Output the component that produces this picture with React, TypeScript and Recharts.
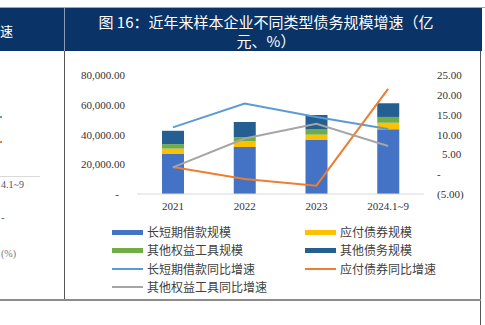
import React from "react";
import { ComposedChart, Bar, Line, XAxis, YAxis } from "recharts";

const categories = ["2021", "2022", "2023", "2024.1~9"];
const loans = [26900, 31600, 36300, 43500];
const bonds = [3600, 3800, 3600, 4400];
const equityTools = [3000, 2900, 3800, 3900];
const otherDebt = [9000, 10100, 9400, 9200];
const loanGrowth = [11.8, 17.8, 14.4, 11.4];
const bondGrowth = [1.8, -1.2, -2.9, 21.5];
const equityGrowth = [1.7, 9.0, 12.7, 7.1];

const leftTicks = [0, 20000, 40000, 60000, 80000];
const rightTicks = [-5, 0, 5, 10, 15, 20, 25];

const NAVY = "#0a3468";
const CJK = '"Noto Sans CJK SC", sans-serif';
const SERIF = '"Liberation Serif", "Times New Roman", serif';

const data = categories.map((name, i) => ({
  name,
  loans: loans[i],
  bonds: bonds[i],
  equityTools: equityTools[i],
  otherDebt: otherDebt[i],
  loanGrowth: loanGrowth[i],
  bondGrowth: bondGrowth[i],
  equityGrowth: equityGrowth[i],
}));

const legendItems = [
  { label: "长短期借款规模", color: "#4472c4", bar: true },
  { label: "应付债券规模", color: "#ffc000", bar: true },
  { label: "其他权益工具规模", color: "#70ad47", bar: true },
  { label: "其他债务规模", color: "#255e91", bar: true },
  { label: "长短期借款同比增速", color: "#5b9bd5", bar: false },
  { label: "应付债券同比增速", color: "#ed7d31", bar: false },
  { label: "其他权益工具同比增速", color: "#a5a5a5", bar: false },
];

const fmt = (v: number) =>
  Math.abs(v).toLocaleString("en-US", { minimumFractionDigits: 2, maximumFractionDigits: 2 });

const LeftTick = ({ x, y, payload }: any) => {
  const v = payload.value as number;
  return (
    <text
      x={v === 0 ? x - 6 : x}
      y={y}
      textAnchor="end"
      dominantBaseline="central"
      fontSize={11}
      fontFamily={SERIF}
      fill="#333"
    >
      {v === 0 ? "-" : fmt(v)}
    </text>
  );
};

const RightTick = ({ x, y, payload }: any) => {
  const v = payload.value as number;
  const label = v === 0 ? "-" : v < 0 ? `(${fmt(v)})` : fmt(v);
  return (
    <text
      x={v > 0 && v < 10 ? x + 5 : x}
      y={y}
      textAnchor="start"
      dominantBaseline="central"
      fontSize={11}
      fontFamily={SERIF}
      fill="#333"
    >
      {label}
    </text>
  );
};

export default function App() {
  return (
    <div
      style={{
        position: "absolute",
        left: 0,
        top: 0,
        width: 485,
        height: 325,
        overflow: "hidden",
        background: "#fff",
      }}
    >
      {/* header bar */}
      <div style={{ position: "absolute", left: 0, top: 7, width: 485, height: 1, background: "#a6a6a6" }} />
      <div style={{ position: "absolute", left: 0, top: 8, width: 482, height: 43, background: NAVY }} />
      <div style={{ position: "absolute", left: 64, top: 8, width: 1, height: 43, background: "#8a9bb3" }} />
      <div
        style={{ position: "absolute", left: 0, top: 22, color: "#fff", fontFamily: CJK, fontSize: 13, lineHeight: "18px" }}
      >
        速
      </div>
      <div
        style={{
          position: "absolute",
          left: 65,
          top: 12,
          width: 402,
          textAlign: "center",
          color: "#fff",
          fontFamily: CJK,
          fontSize: 15,
          lineHeight: "19px",
        }}
      >
        <div>图 16：近年来样本企业不同类型债务规模增速（亿</div>
        <div>元、%）</div>
      </div>

      {/* panel borders */}
      <div style={{ position: "absolute", left: 64, top: 51, width: 1, height: 249, background: "#555" }} />
      <div style={{ position: "absolute", left: 480, top: 51, width: 1, height: 274, background: "#555" }} />
      <div style={{ position: "absolute", left: 0, top: 299, width: 481, height: 2, background: "#8c8c8c" }} />

      {/* fragments of the neighbouring figure */}
      <div style={{ position: "absolute", left: 0, top: 116, width: 2, height: 2, background: "#5b9bd5" }} />
      <div style={{ position: "absolute", left: 0, top: 141, width: 2, height: 2, background: "#ed7d31" }} />
      <div style={{ position: "absolute", left: 0, top: 176, width: 40, height: 1, background: "#d9d9d9" }} />
      <div style={{ position: "absolute", left: 1, top: 179, fontFamily: SERIF, fontSize: 10, color: "#555" }}>
        4.1~9
      </div>
      <div style={{ position: "absolute", left: 1, top: 211, fontFamily: SERIF, fontSize: 11, color: "#555" }}>-</div>
      <div style={{ position: "absolute", left: 1, top: 248, fontFamily: SERIF, fontSize: 10, color: "#777" }}>
        (%)
      </div>

      <div style={{ position: "absolute", left: 0, top: 0 }}>
        <ComposedChart
          width={485}
          height={325}
          data={data}
          margin={{ top: 75, right: 11, bottom: 101, left: 77 }}
        >
          <XAxis
            dataKey="name"
            axisLine={{ stroke: "#d9d9d9" }}
            tickLine={false}
            height={30}
            tick={{ fontSize: 11, fontFamily: SERIF, fill: "#333" }}
          />
          <YAxis
            yAxisId="left"
            orientation="left"
            width={60}
            domain={[0, 80000]}
            ticks={leftTicks}
            axisLine={false}
            tickLine={false}
            tickSize={6}
            tickMargin={6}
            tick={<LeftTick />}
            interval={0}
          />
          <YAxis
            yAxisId="right"
            orientation="right"
            width={50}
            domain={[-5, 25]}
            ticks={rightTicks}
            axisLine={false}
            tickLine={false}
            tickSize={6}
            tickMargin={7}
            tick={<RightTick />}
            interval={0}
          />
          <Bar yAxisId="left" dataKey="loans" stackId="a" fill="#4472c4" barSize={22} isAnimationActive={false} />
          <Bar yAxisId="left" dataKey="bonds" stackId="a" fill="#ffc000" barSize={22} isAnimationActive={false} />
          <Bar yAxisId="left" dataKey="equityTools" stackId="a" fill="#70ad47" barSize={22} isAnimationActive={false} />
          <Bar yAxisId="left" dataKey="otherDebt" stackId="a" fill="#255e91" barSize={22} isAnimationActive={false} />
          <Line yAxisId="right" type="linear" dataKey="loanGrowth" stroke="#5b9bd5" strokeWidth={2} dot={false} isAnimationActive={false} />
          <Line yAxisId="right" type="linear" dataKey="bondGrowth" stroke="#ed7d31" strokeWidth={2} dot={false} isAnimationActive={false} />
          <Line yAxisId="right" type="linear" dataKey="equityGrowth" stroke="#a5a5a5" strokeWidth={2} dot={false} isAnimationActive={false} />
        </ComposedChart>
      </div>

      {/* legend */}
      {legendItems.map((item, i) => {
        const col = i % 2;
        const row = Math.floor(i / 2);
        const left = col === 0 ? 112 : 305;
        const cy = 232 + row * 18.3;
        return (
          <div key={item.label}>
            <div
              style={{
                position: "absolute",
                left,
                top: cy - (item.bar ? 2.5 : 1),
                width: 31,
                height: item.bar ? 5 : 2,
                background: item.color,
              }}
            />
            <div
              style={{
                position: "absolute",
                left: left + 35,
                top: cy - 9,
                height: 18,
                lineHeight: "18px",
                fontFamily: CJK,
                fontSize: 12,
                color: "#404040",
                whiteSpace: "nowrap",
              }}
            >
              {item.label}
            </div>
          </div>
        );
      })}
    </div>
  );
}
